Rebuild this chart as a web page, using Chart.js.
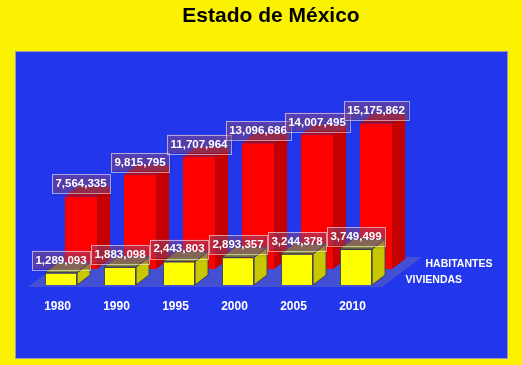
<!DOCTYPE html>
<html lang="es">
<head>
<meta charset="UTF-8">
<title>Estado de México</title>
<script src="https://cdn.jsdelivr.net/npm/chart.js"></script>
<style>
  body { margin: 0; background: #faf200; }
  #wrap { width: 522px; height: 365px; }
</style>
</head>
<body>
<div id="wrap"><canvas id="chart"></canvas></div>
<script>
const years = ['1980', '1990', '1995', '2000', '2005', '2010'];
const habitantes = [7564335, 9815795, 11707964, 13096686, 14007495, 15175862];
const viviendas = [1289093, 1883098, 2443803, 2893357, 3244378, 3749499];
const seriesNames = ['HABITANTES', 'VIVIENDAS'];

// depth shift of each row (index 0 = back row), and 3d extrusion
const rowShift = [{x: 23.5, y: -18}, {x: 3.5, y: -2}];
const depth = {x: 13, y: -10};
const sideColors = ['#c40000', '#c8c800'];
const topColors = ['#a8102a', '#8a8a3c'];
const edgeColors = [null, '#3c3c5a'];

const threeD = {
    id: 'threeD',
    beforeDraw(chart) {
        const ctx = chart.ctx;
        ctx.save();
        ctx.fillStyle = '#2236ec';
        ctx.fillRect(15, 51, 492, 307);
        ctx.strokeStyle = '#9a9ab0';
        ctx.lineWidth = 1;
        ctx.strokeRect(15.5, 51.5, 492, 307);
        ctx.restore();
    },
    beforeDatasetsDraw(chart) {
        // floor
        const {ctx, chartArea: a} = chart;
        ctx.save();
        ctx.fillStyle = '#4450d4';
        ctx.beginPath();
        ctx.moveTo(a.left, a.bottom);
        ctx.lineTo(a.right, a.bottom);
        ctx.lineTo(a.right + 40, a.bottom - 30);
        ctx.lineTo(a.left + 40, a.bottom - 30);
        ctx.closePath();
        ctx.fill();
        ctx.restore();
    },
    beforeDatasetDraw(chart, args) {
        const s = rowShift[args.index];
        chart.ctx.save();
        chart.ctx.translate(s.x, s.y);
    },
    afterDatasetDraw(chart, args) {
        const ctx = chart.ctx;
        const i = args.index;
        args.meta.data.forEach(bar => {
            const l = bar.x - bar.width / 2;
            const r = bar.x + bar.width / 2;
            const t = bar.y, b = bar.base;
            // side
            ctx.beginPath();
            ctx.moveTo(r, t);
            ctx.lineTo(r + depth.x, t + depth.y);
            ctx.lineTo(r + depth.x, b + depth.y);
            ctx.lineTo(r, b);
            ctx.closePath();
            ctx.fillStyle = sideColors[i];
            ctx.fill();
            if (edgeColors[i]) { ctx.strokeStyle = edgeColors[i]; ctx.lineWidth = 1; ctx.stroke(); }
            // top
            ctx.beginPath();
            ctx.moveTo(l, t);
            ctx.lineTo(l + depth.x, t + depth.y);
            ctx.lineTo(r + depth.x, t + depth.y);
            ctx.lineTo(r, t);
            ctx.closePath();
            ctx.fillStyle = topColors[i];
            ctx.fill();
            if (edgeColors[i]) ctx.stroke();
        });
        ctx.restore();
    },
    afterDatasetsDraw(chart) {
        const {ctx, chartArea: a} = chart;
        ctx.save();
        ctx.font = 'bold 11.5px "Liberation Sans", Arial, sans-serif';
        ctx.textAlign = 'center';
        ctx.textBaseline = 'middle';
        chart.data.datasets.forEach((ds, i) => {
            const s = rowShift[i];
            chart.getDatasetMeta(i).data.forEach((bar, j) => {
                const txt = ds.data[j].toLocaleString('en-US');
                const w = ctx.measureText(txt).width + 7;
                const h = 18.5;
                const cx = bar.x + s.x;
                const bottom = bar.y + s.y - 3.5;
                ctx.save();
                ctx.shadowColor = 'rgba(0,0,0,0.3)';
                ctx.shadowBlur = 3;
                ctx.shadowOffsetX = 2;
                ctx.shadowOffsetY = 2;
                ctx.fillStyle = 'rgba(150,80,130,0.45)';
                ctx.fillRect(cx - w / 2, bottom - h, w, h);
                ctx.restore();
                ctx.strokeStyle = 'rgba(255,255,255,0.55)';
                ctx.lineWidth = 1;
                ctx.strokeRect(Math.round(cx - w / 2) + 0.5, Math.round(bottom - h) + 0.5, Math.round(w), Math.round(h));
                ctx.fillStyle = '#ffffff';
                ctx.fillText(txt, cx, bottom - h / 2 + 0.5);
            });
        });
        // series names along the depth axis
        ctx.font = 'bold 10.5px "Liberation Sans", Arial, sans-serif';
        ctx.textAlign = 'left';
        chart.data.datasets.forEach((ds, i) => {
            const s = rowShift[i];
            ctx.fillText(ds.label, a.right + 20 + s.x, a.bottom - 5 + s.y);
        });
        ctx.restore();
    }
};

new Chart(document.getElementById('chart'), {
    type: 'bar',
    data: {
        labels: years,
        datasets: [{
            label: seriesNames[0],
            data: habitantes,
            backgroundColor: '#ff0000',
            borderWidth: 0,
            order: 2
        }, {
            label: seriesNames[1],
            data: viviendas,
            backgroundColor: '#ffff00',
            borderColor: '#3c3c5a',
            borderWidth: 1,
            order: 1
        }]
    },
    options: {
        responsive: true,
        maintainAspectRatio: false,
        animation: false,
        events: [],
        layout: { padding: { left: 28, right: 8, top: 0, bottom: 39.6 } },
        datasets: {
            bar: { grouped: false, barPercentage: 1, categoryPercentage: 0.545, clip: false }
        },
        plugins: {
            legend: { display: false },
            tooltip: { enabled: false },
            title: {
                display: true,
                text: 'Estado de México',
                color: '#000000',
                font: { family: '"Liberation Sans", Arial, sans-serif', size: 21, weight: 'bold' },
                padding: { top: 3.5, bottom: 104.8 }
            }
        },
        scales: {
            x: {
                grid: { display: false, drawTicks: false },
                border: { display: false },
                ticks: {
                    color: '#ffffff',
                    padding: 12,
                    maxRotation: 0,
                    font: { family: '"Liberation Sans", Arial, sans-serif', size: 12, weight: 'bold' }
                }
            },
            y: {
                position: 'right',
                min: 0,
                max: 16000000,
                grid: { display: false, drawTicks: false },
                border: { display: false },
                ticks: { display: false },
                afterFit(scale) { scale.width = 132; }
            }
        }
    },
    plugins: [threeD]
});
</script>
</body>
</html>
